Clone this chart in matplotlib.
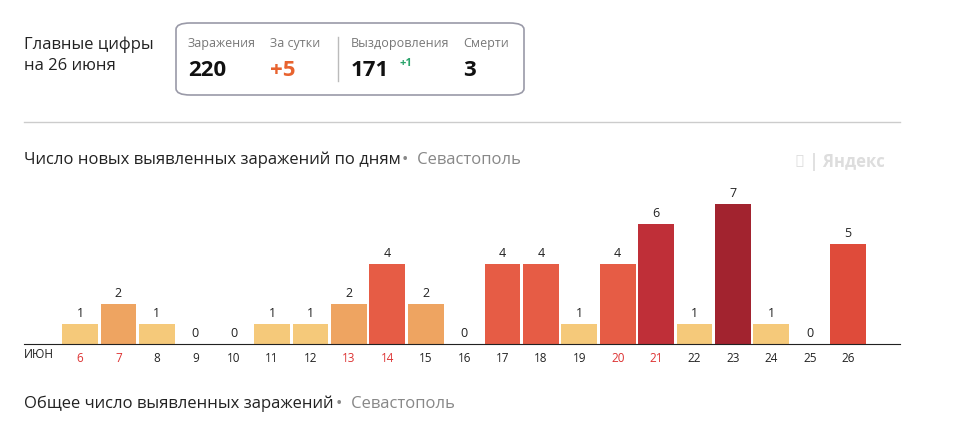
import matplotlib.pyplot as plt
from matplotlib.patches import FancyBboxPatch

plt.rcParams["font.family"] = "Open Sans"

days = [6, 7, 8, 9, 10, 11, 12, 13, 14, 15, 16, 17, 18, 19, 20, 21, 22, 23, 24, 25, 26]
new_cases = [1, 2, 1, 0, 0, 1, 1, 2, 4, 2, 0, 4, 4, 1, 4, 6, 1, 7, 1, 0, 5]
weekend_days = [6, 7, 13, 14, 20, 21]
level_colors = {0: "#f5c97a", 1: "#f5c97a", 2: "#eea461", 4: "#e65c45",
                5: "#df4b3a", 6: "#bf2f38", 7: "#a2232f"}

W, H = 960, 431
fig = plt.figure(figsize=(W / 100, H / 100), dpi=100)

def px(x, y):
    return x / W, 1 - y / H

# header
fig.text(*px(24, 45), "Главные цифры", fontsize=12, va="center", color="#222")
fig.text(*px(24, 66), "на 26 июня", fontsize=12, va="center", color="#222")
box = FancyBboxPatch(px(176, 96), 348 / W, 72 / H, boxstyle="round,pad=0,rounding_size=0.015",
                     transform=fig.transFigure, fill=False, ec="#9a9aa8", lw=1.2)
fig.add_artist(box)
stats = [(188, "Заражения", "220", "#111"), (270, "За сутки", "+5", "#e8632f"),
         (351, "Выздоровления", "171", "#111"), (463, "Смерти", "3", "#111")]
for x, lab, val, col in stats:
    fig.text(*px(x, 44), lab, fontsize=9, color="#777", va="center")
    fig.text(*px(x, 70), val, fontsize=16, fontweight="bold", color=col, va="center")
fig.text(*px(399, 64), "+1", fontsize=8, color="#2aa36b", fontweight="bold", va="center")
fig.add_artist(plt.Line2D([338 / W, 338 / W], [1 - 38 / H, 1 - 82 / H], color="#bbb", lw=1))
fig.add_artist(plt.Line2D([24 / W, 900 / W], [1 - 123 / H] * 2, color="#ccc", lw=1))

fig.text(*px(24, 160), "Число новых выявленных заражений по дням", fontsize=12, va="center", color="#222")
fig.text(*px(402, 160), "•  Севастополь", fontsize=12, va="center", color="#888")
fig.text(*px(795, 162), "◉ | Яндекс", fontsize=12, va="center", color="#ddd", fontweight="bold")
fig.text(*px(24, 404), "Общее число выявленных заражений", fontsize=12, va="center", color="#222")
fig.text(*px(336, 404), "•  Севастополь", fontsize=12, va="center", color="#888")

# bars
ax = fig.add_axes([24 / W, 1 - 345 / H, 876 / W, 160 / H])
colors = [level_colors[v] for v in new_cases]
ax.bar(days, new_cases, width=0.93, color=colors)
for d, v in zip(days, new_cases):
    ax.text(d, v + 0.25, str(v), ha="center", va="bottom", fontsize=9, color="#222")
ax.set_xlim(4.54, 27.35)
ax.set_ylim(0, 8)
ax.set_xticks(days)
ax.set_xticklabels([str(d) for d in days], fontsize=8.5)
for lbl, d in zip(ax.get_xticklabels(), days):
    lbl.set_color("#d33" if d in weekend_days else "#222")
ax.tick_params(axis="x", length=0, pad=5)
ax.set_yticks([])
for s in ["top", "right", "left"]:
    ax.spines[s].set_visible(False)
ax.spines["bottom"].set_color("#222")
fig.text(*px(24, 355), "ИЮН", fontsize=8.5, va="center", color="#222")

fig.savefig("out.png", dpi=100)
